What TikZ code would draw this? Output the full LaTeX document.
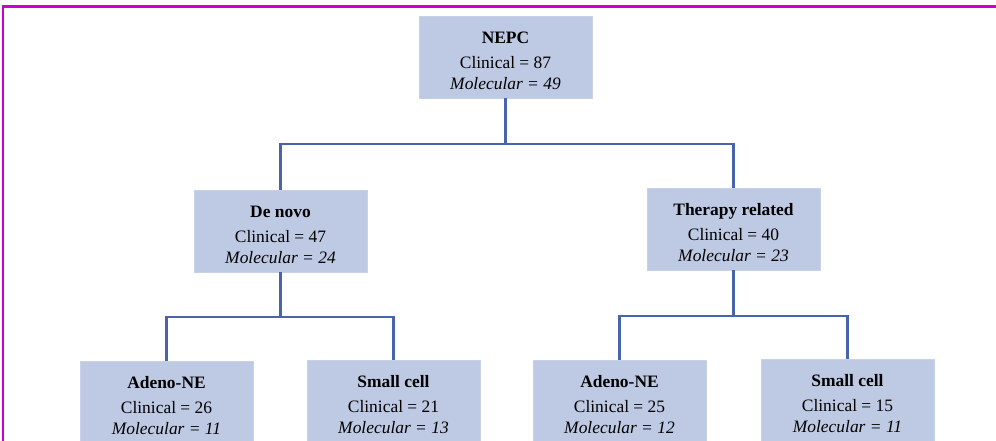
\documentclass[tikz,border=0pt]{standalone}
\usepackage{fontspec}
\setmainfont{Liberation Serif}
\definecolor{boxfill}{RGB}{190,201,227}
\definecolor{linecol}{RGB}{72,100,172}
\definecolor{framecol}{RGB}{204,0,204}
\tikzset{
  catbox/.style={fill=boxfill, draw=boxfill!85!white, line width=0.4pt, minimum width=173bp, minimum height=82bp, inner sep=0pt, anchor=north, align=center, font=\fontsize{17.5}{21}\selectfont},
  conn/.style={draw=linecol, line width=2.8bp, line join=miter},
  frameline/.style={draw=framecol, line width=2.5bp}
}
\newcommand{\boxtext}[3]{\rule{0pt}{19pt}\textbf{#1}\\[3.5pt]Clinical = #2\\\textit{Molecular = #3}}
\begin{document}
\begin{tikzpicture}[x=1bp,y=-1bp]
\useasboundingbox (0,0) rectangle (996,441);
\clip (0,0) rectangle (996,441);
\fill[white] (0,0) rectangle (996,441);
\coordinate (ftl) at (3,6.5);
\coordinate (ftr) at (998,6.5);
\coordinate (fbl) at (3,445);
\draw[frameline] (fbl) -- (ftl) -- (ftr);
% boxes
\node[catbox] (nepc) at (505.5,16) {\boxtext{NEPC}{87}{49}};
\node[catbox] (denovo) at (280.5,190) {\boxtext{De novo}{47}{24}};
\node[catbox] (therapy) at (733.5,188) {\boxtext{Therapy related}{40}{23}};
\node[catbox] (adenoL) at (166.5,361) {\boxtext{Adeno-NE}{26}{11}};
\node[catbox] (smallL) at (393.5,360) {\boxtext{Small cell}{21}{13}};
\node[catbox] (adenoR) at (619.5,360) {\boxtext{Adeno-NE}{25}{12}};
\node[catbox] (smallR) at (847.5,359) {\boxtext{Small cell}{15}{11}};
% connectors
\coordinate (j1) at (505.5,144);
\coordinate (j2) at (280.5,317);
\coordinate (j3) at (733.5,316);
\draw[conn] (nepc.south) -- (j1);
\draw[conn] (denovo.north) |- (j1) -| (therapy.north);
\draw[conn] (denovo.south) -- (j2);
\draw[conn] (adenoL.north) |- (j2) -| (smallL.north);
\draw[conn] (therapy.south) -- (j3);
\draw[conn] (adenoR.north) |- (j3) -| (smallR.north);
\end{tikzpicture}
\end{document}
